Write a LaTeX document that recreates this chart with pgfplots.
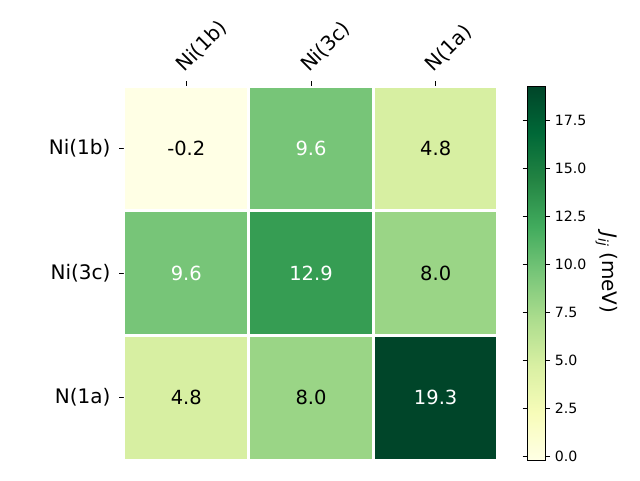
\documentclass[border=0pt]{standalone}
\usepackage{pgfplots}
\pgfplotsset{compat=1.18}
\usepackage{fontspec}
\setmainfont{DejaVu Sans}

\pgfplotsset{
  colormap={YlGn}{rgb255=(255,255,229) rgb255=(247,252,185) rgb255=(217,240,163)
    rgb255=(173,221,142) rgb255=(120,198,121) rgb255=(65,171,93)
    rgb255=(35,132,67) rgb255=(0,104,55) rgb255=(0,69,41)}
}

\pgfplotstableread{
x y z
0 0 -0.2
1 0 9.6
2 0 4.8
0 1 9.6
1 1 12.9
2 1 8.0
0 2 4.8
1 2 8.0
2 2 19.3
}\jij

\begin{document}
\begin{tikzpicture}
\path[use as bounding box] (-93pt,-15pt) rectangle (387pt,345pt);
\begin{axis}[
    scale only axis,
    width=280.5pt, height=280.5pt,
    xmin=-0.5, xmax=2.5, ymin=-0.5, ymax=2.5,
    y dir=reverse,
    axis line style={draw=none},
    xtick={0,1,2}, ytick={0,1,2},
    xticklabels={Ni(1b),Ni(3c),N(1a)},
    yticklabels={Ni(1b),Ni(3c),N(1a)},
    xtick pos=right, xticklabel pos=right,
    ytick pos=left,
    tick align=outside,
    major tick length=3.65pt,
    tick style={black, line width=0.6pt},
    tick label style={font=\fontsize{15}{18}\selectfont},
    xticklabel style={rotate=45, anchor=south west},
    yticklabel style={xshift=-3pt},
    colormap name=YlGn,
    point meta min=-0.2, point meta max=19.3,
    colorbar,
    colorbar style={
        at={(parent axis.north east)}, anchor=north west, xshift=13.5pt,
        width=13.5pt,
        ytick={0,2.5,5,7.5,10,12.5,15,17.5},
        yticklabels={0.0,2.5,5.0,7.5,10.0,12.5,15.0,17.5},
        yticklabel style={font=\fontsize{10.6}{12}\selectfont},
        tick align=outside,
        major tick length=3.65pt,
        tick style={black, line width=0.6pt},
        axis line style={black, line width=0.6pt},
        ylabel={{\itshape J}\raisebox{-0.35ex}{\fontsize{10.2}{12}\itshape ij}\ (meV)},
        ylabel style={rotate=180, font=\fontsize{15}{18}\selectfont},
    },
]
\addplot[matrix plot*, mesh/cols=3, point meta=explicit,
    shader=faceted, faceted color=white, line width=2.25pt]
    table[x=x, y=y, meta=z] {\jij};
\addplot[only marks, mark=none, nodes near coords, point meta=explicit symbolic,
    nodes near coords align=center,
    every node near coord/.append style={font=\fontsize{14.6}{17}\selectfont, text=black}]
    table[meta=lbl] {
x y lbl
0 0 -0.2
2 0 4.8
2 1 8.0
0 2 4.8
1 2 8.0
};
\addplot[only marks, mark=none, nodes near coords, point meta=explicit symbolic,
    nodes near coords align=center,
    every node near coord/.append style={font=\fontsize{14.6}{17}\selectfont, text=white}]
    table[meta=lbl] {
x y lbl
1 0 9.6
0 1 9.6
1 1 12.9
2 2 19.3
};
\end{axis}
\end{tikzpicture}
\end{document}
